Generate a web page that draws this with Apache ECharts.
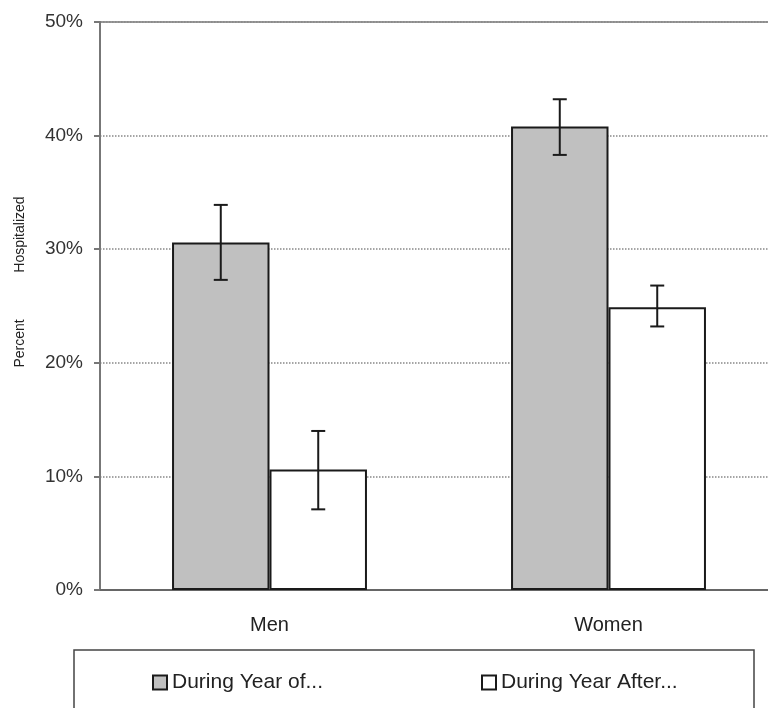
<!DOCTYPE html>
<html>
<head>
<meta charset="utf-8">
<script src="https://cdn.jsdelivr.net/npm/echarts@6/dist/echarts.min.js"></script>
<style>
  html, body { margin: 0; padding: 0; background: #fff; }
  #chart { width: 768px; height: 708px; }
</style>
</head>
<body>
<div id="chart"></div>
<script>
const categories = ['Men', 'Women'];
const seriesNames = ['During Year of...', 'During Year After...'];
const yearOf = [30.6, 40.8];
const yearAfter = [10.6, 24.9];
const yearOfLow = [27.3, 38.3];
const yearOfHigh = [33.9, 43.2];
const yearAfterLow = [7.1, 23.2];
const yearAfterHigh = [14.0, 26.8];

const CAT_GAP = 0.425;   // share of the category left empty

window.addEventListener('load', function () {
    renderChart();
});

// one error bar per data item, shifted onto its own bar
function errorBarSeries(low, high, side) {
    return {
        type: 'custom',
        z: 5,
        silent: true,
        data: categories.map((c, i) => [i, low[i], high[i]]),
        renderItem: function (params, api) {
            const idx = api.value(0);
            const band = api.size([1, 0])[0];
            const barW = band * (1 - CAT_GAP) / 2;
            const lo = api.coord([idx, api.value(1)]);
            const hi = api.coord([idx, api.value(2)]);
            const x = lo[0] + side * barW / 2;
            const half = 7;
            const style = { stroke: '#1a1a1a', lineWidth: 2 };
            return {
                type: 'group',
                children: [
                    { type: 'line', shape: { x1: x, y1: hi[1], x2: x, y2: lo[1] }, style: style },
                    { type: 'line', shape: { x1: x - half, y1: hi[1], x2: x + half, y2: hi[1] }, style: style },
                    { type: 'line', shape: { x1: x - half, y1: lo[1], x2: x + half, y2: lo[1] }, style: style }
                ]
            };
        }
    };
}

function renderChart() {
    const chartDom = document.getElementById('chart');
    const myChart = echarts.init(chartDom);

    const legendBase = {
        top: 667,
        itemWidth: 14,
        itemHeight: 14,
        icon: 'rect',
        selectedMode: false,
        textStyle: { color: '#222', fontSize: 21, fontFamily: 'Liberation Sans' }
    };

    const option = {
        animation: false,
        backgroundColor: '#fff',
        grid: {
            left: 100, top: 22, width: 678, height: 568,
            outerBoundsMode: 'none',
            show: true, borderColor: '#999', borderWidth: 2
        },
        legend: [
            Object.assign({ left: 147, data: [seriesNames[0]] }, legendBase),
            Object.assign({ left: 476, data: [seriesNames[1]] }, legendBase)
        ],
        xAxis: {
            type: 'category',
            data: categories,
            axisTick: { show: false },
            axisLine: { lineStyle: { color: '#666', width: 2 } },
            axisLabel: { color: '#222', fontSize: 20, margin: 25, fontFamily: 'Liberation Sans' }
        },
        yAxis: {
            type: 'value',
            min: 0,
            max: 50,
            interval: 10,
            axisLine: { show: true, lineStyle: { color: '#777', width: 2 } },
            axisTick: { show: true, length: 6, lineStyle: { color: '#777', width: 2 } },
            axisLabel: { color: '#333', fontSize: 19, margin: 17, formatter: '{value}%', fontFamily: 'Liberation Sans' },
            splitLine: { lineStyle: { color: '#888', type: 'dotted', width: 1.5 } }
        },
        graphic: [
            {
                type: 'rect',
                shape: { x: 74, y: 650, width: 680, height: 80 },
                style: { fill: 'none', stroke: '#444', lineWidth: 1.5 },
                silent: true
            },
            {
                type: 'text',
                x: 20,
                y: 282,
                rotation: Math.PI / 2,
                style: {
                    text: 'Percent            Hospitalized',
                    fill: '#222',
                    fontSize: 14,
                    fontFamily: 'Liberation Sans',
                    align: 'center',
                    verticalAlign: 'middle'
                }
            }
        ],
        series: [
            {
                name: seriesNames[0],
                type: 'bar',
                data: yearOf,
                barGap: 0,
                barCategoryGap: (CAT_GAP * 100) + '%',
                itemStyle: { color: '#c0c0c0', borderColor: '#1a1a1a', borderWidth: 2 }
            },
            {
                name: seriesNames[1],
                type: 'bar',
                data: yearAfter,
                barGap: 0,
                barCategoryGap: (CAT_GAP * 100) + '%',
                itemStyle: { color: '#ffffff', borderColor: '#1a1a1a', borderWidth: 2 }
            },
            errorBarSeries(yearOfLow, yearOfHigh, -1),
            errorBarSeries(yearAfterLow, yearAfterHigh, 1)
        ]
    };

    myChart.setOption(option);
}
</script>
</body>
</html>
